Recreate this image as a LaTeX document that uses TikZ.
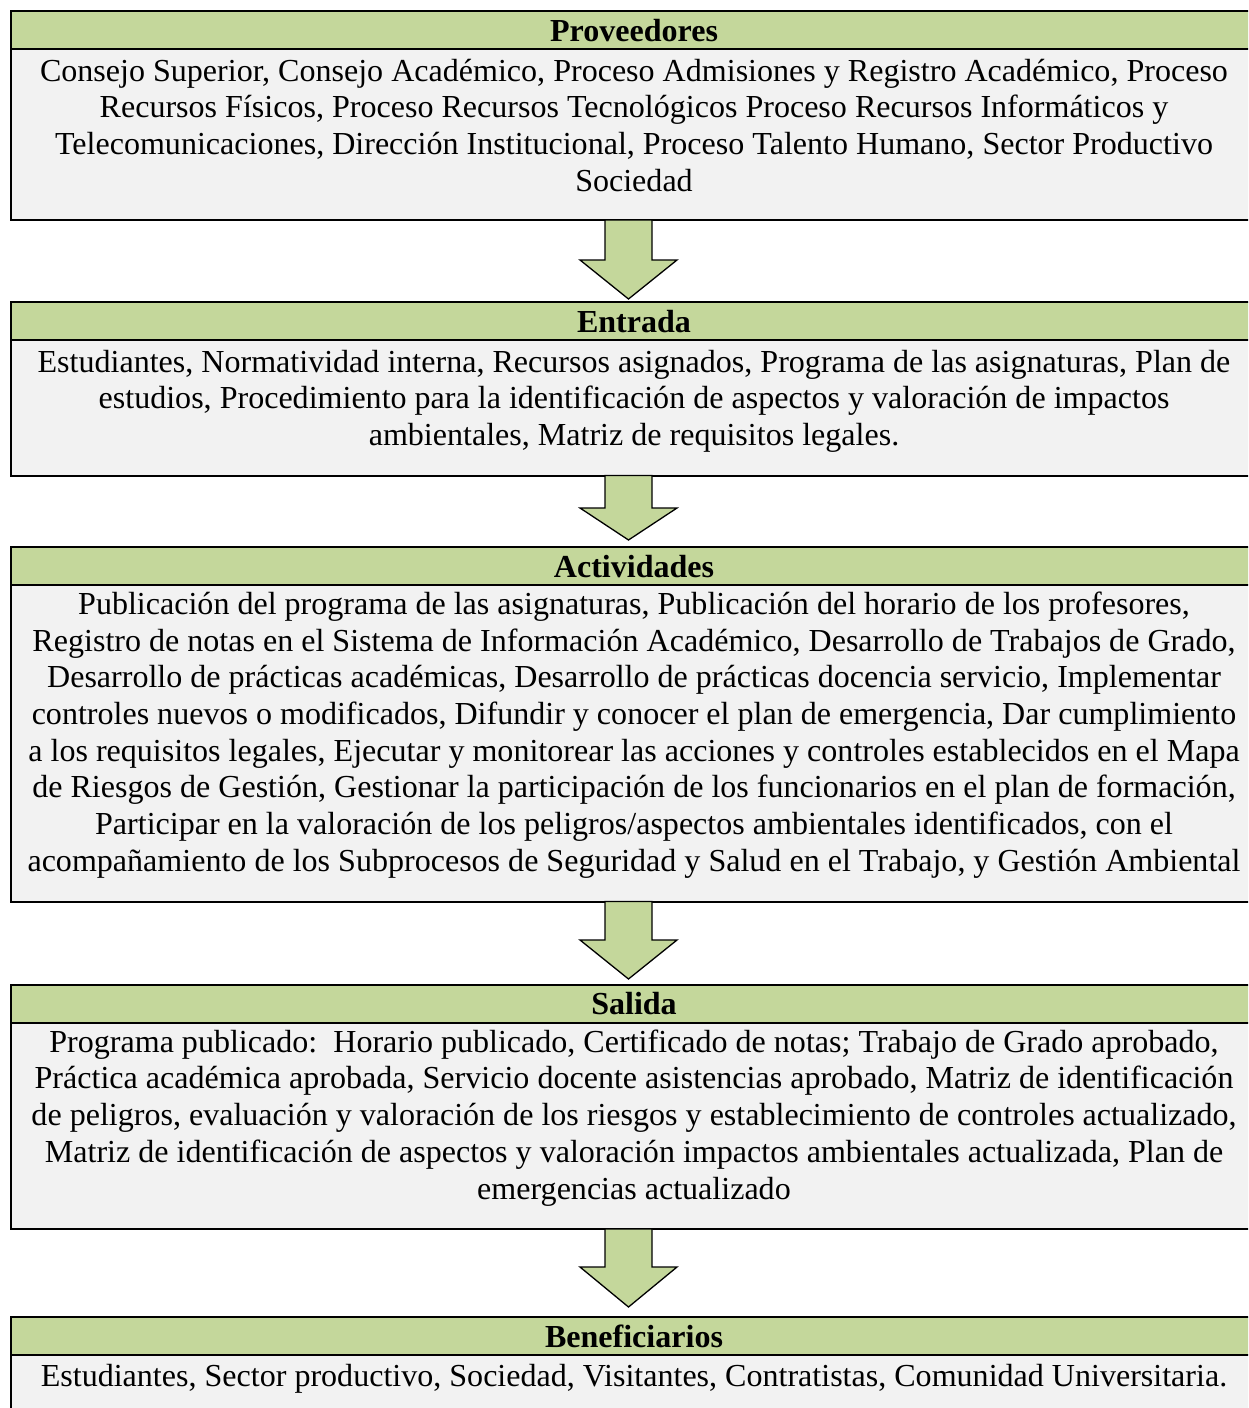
\documentclass[tikz,border=0pt]{standalone}
\usepackage{fontspec}
\setmainfont{Liberation Serif}
\definecolor{hdrgreen}{HTML}{C4D79B}
\definecolor{bodygray}{HTML}{F2F2F2}
\tikzset{
  boxline/.style={draw=black,line width=2pt},
  bodytext/.style={anchor=base,align=center,inner sep=0pt,font=\fontsize{32.05}{36.7}\selectfont},
  headtext/.style={anchor=base,inner sep=0pt,font=\fontsize{32.05}{36.7}\selectfont\bfseries},
  blockarrow/.style={fill=hdrgreen,draw=black,line width=1.3pt,line join=miter}
}
\newcommand{\procbox}[2]{%
  \fill[bodygray] (11,#1) rectangle (1257,#2);
  \fill[hdrgreen] (11,#1) rectangle (1257,#1+38);
  \draw[boxline] (11,#1) rectangle (1257,#2);
  \draw[boxline] (11,#1+38) -- (1257,#1+38);
}
\newcommand{\downarrowblock}[3]{%
  \draw[blockarrow] (605,#1) -- (652,#1) -- (652,#2) -- (677,#2) -- (628.5,#3) -- (580,#2) -- (605,#2) -- cycle;
}
\begin{document}
\begin{tikzpicture}[x=1pt,y=-1pt]
\useasboundingbox (0,0) rectangle (1248,1408);
\begin{scope}
\clip (0,0) rectangle (1248,1408);
\procbox{11}{220}
\procbox{302}{475.5}
\procbox{547}{901.5}
\procbox{985}{1229}
\procbox{1317}{1430}
\end{scope}
\downarrowblock{220}{260}{299}
\downarrowblock{475.5}{508}{540}
\downarrowblock{901.5}{940}{979}
\downarrowblock{1229}{1267}{1307}

% body nodes are anchored at the baseline of their last line
\node[headtext] (h1) at (634,41) {Proveedores};
\node[bodytext] (t1) at (634,191.1) {Consejo Superior, Consejo Académico, Proceso Admisiones y Registro Académico, Proceso\\
Recursos Físicos, Proceso Recursos Tecnológicos Proceso Recursos Informáticos y\\
Telecomunicaciones, Dirección Institucional, Proceso Talento Humano, Sector Productivo\\
Sociedad};

\node[headtext] (h2) at (634,332) {Entrada};
\node[bodytext] (t2) at (634,445.6) {Estudiantes, Normatividad interna, Recursos asignados, Programa de las asignaturas, Plan de\\
estudios, Procedimiento para la identificación de aspectos y valoración de impactos\\
ambientales, Matriz de requisitos legales.};

\node[headtext] (h3) at (634,577) {Actividades};
\node[bodytext] (t3) at (634,871.2) {Publicación del programa de las asignaturas, Publicación del horario de los profesores,\\
Registro de notas en el Sistema de Información Académico, Desarrollo de Trabajos de Grado,\\
Desarrollo de prácticas académicas, Desarrollo de prácticas docencia servicio, Implementar\\
controles nuevos o modificados, Difundir y conocer el plan de emergencia, Dar cumplimiento\\
a los requisitos legales, Ejecutar y monitorear las acciones y controles establecidos en el Mapa\\
de Riesgos de Gestión, Gestionar la participación de los funcionarios en el plan de formación,\\
Participar en la valoración de los peligros/aspectos ambientales identificados, con el\\
acompañamiento de los Subprocesos de Seguridad y Salud en el Trabajo, y Gestión Ambiental};

\node[headtext] (h4) at (634,1014) {Salida};
\node[bodytext] (t4) at (634,1199) {Programa publicado:\ \ Horario publicado, Certificado de notas; Trabajo de Grado aprobado,\\
Práctica académica aprobada, Servicio docente asistencias aprobado, Matriz de identificación\\
de peligros, evaluación y valoración de los riesgos y establecimiento de controles actualizado,\\
Matriz de identificación de aspectos y valoración impactos ambientales actualizada, Plan de\\
emergencias actualizado};

\node[headtext] (h5) at (634,1347) {Beneficiarios};
\node[bodytext] (t5) at (634,1386) {Estudiantes, Sector productivo, Sociedad, Visitantes, Contratistas, Comunidad Universitaria.};
\end{tikzpicture}
\end{document}
